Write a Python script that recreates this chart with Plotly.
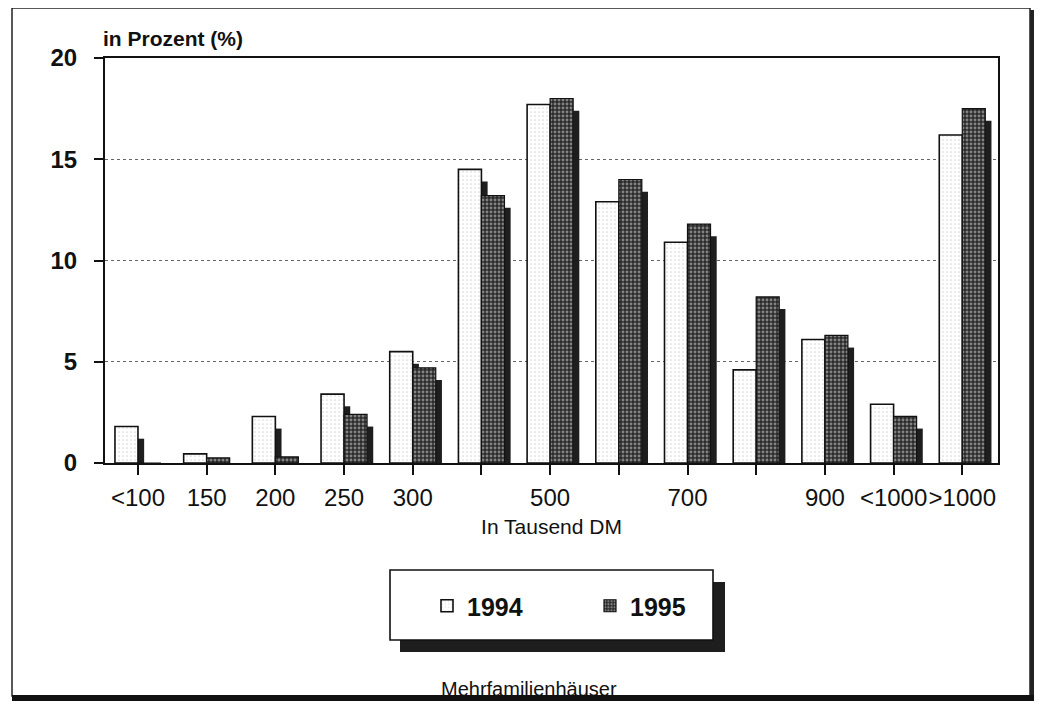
import plotly.graph_objects as go

# ---------------- data ----------------
categories = ["<100", "150", "200", "250", "300", "400", "500", "600", "700", "800", "900", "<1000", ">1000"]
tick_labels = ["<100", "150", "200", "250", "300", "", "500", "", "700", "", "900", "<1000", ">1000"]
values_1994 = [1.8, 0.45, 2.3, 3.4, 5.5, 14.5, 17.7, 12.9, 10.9, 4.6, 6.1, 2.9, 16.2]
values_1995 = [0.0, 0.25, 0.3, 2.4, 4.7, 13.2, 18.0, 14.0, 11.8, 8.2, 6.3, 2.3, 17.5]
series_names = ["1994", "1995"]

# ---------------- styling ----------------
OFF = 8  # page body margin
W, H = 1044 - OFF, 705 - OFF
PLOT_L, PLOT_R, PLOT_T, PLOT_B = 105, 998, 58, 463  # target pixel box on the page
ML, MT = PLOT_L - OFF, PLOT_T - OFF
MR, MB = W - (PLOT_R - OFF), H - (PLOT_B - OFF)
PW, PH = PLOT_R - PLOT_L, PLOT_B - PLOT_T
BAR_W = 0.335
SHADOW_W = 0.09
SHADOW_DROP = 0.6
FONT = "Liberation Sans"


def px_x(px):
    return (px - PLOT_L) / PW


def px_y(py):
    return (PLOT_B - py) / PH


shadow_1994 = [max(0.0, v - SHADOW_DROP) for v in values_1994]
shadow_1995 = [max(0.0, v - SHADOW_DROP) for v in values_1995]

fig = go.Figure()

# drop shadows (drawn first, behind the bars)
fig.add_trace(go.Bar(x=categories, y=shadow_1994, offset=0.0, width=SHADOW_W,
                     marker=dict(color="#1e1e1e", line=dict(width=0)),
                     showlegend=False, hoverinfo="skip"))
fig.add_trace(go.Bar(x=categories, y=shadow_1995, offset=BAR_W, width=SHADOW_W,
                     marker=dict(color="#1e1e1e", line=dict(width=0)),
                     showlegend=False, hoverinfo="skip"))

fig.add_trace(go.Bar(
    x=categories, y=values_1994, name=series_names[0], offset=-BAR_W, width=BAR_W,
    marker=dict(color="white", line=dict(color="#111", width=1.6),
                pattern=dict(shape=".", bgcolor="white", fgcolor="#b0b0b0",
                             size=4, solidity=0.14))))
fig.add_trace(go.Bar(
    x=categories, y=values_1995, name=series_names[1], offset=0.0, width=BAR_W,
    marker=dict(color="#333", line=dict(color="#111", width=1.2),
                pattern=dict(shape=".", bgcolor="#2a2a2a", fgcolor="#dcdcdc",
                             size=4, solidity=0.42))))

fig.update_layout(
    width=W, height=H,
    margin=dict(l=ML, r=MR, t=MT, b=MB),
    paper_bgcolor="white", plot_bgcolor="white",
    barmode="overlay",
    font=dict(family=FONT, color="#111"),
    showlegend=True,
    legend=dict(orientation="h", x=px_x(427), y=px_y(606), xanchor="left", yanchor="middle",
                bgcolor="rgba(0,0,0,0)", borderwidth=0, entrywidth=118,
                font=dict(size=25, family=FONT, color="#111", weight="bold"),
                itemclick=False, itemdoubleclick=False),
)

fig.update_xaxes(
    type="category", categoryorder="array", categoryarray=categories,
    tickmode="array", tickvals=categories, ticktext=tick_labels,
    range=[-0.48, 12.52], tickangle=0,
    showline=True, linecolor="#111", linewidth=2, mirror=True,
    ticks="outside", ticklen=10, tickcolor="#111", tickwidth=1.5,
    ticklabelstandoff=2,
    tickfont=dict(size=24, family=FONT, color="#111"),
    showgrid=False, zeroline=False,
    title=dict(text="In Tausend DM", font=dict(size=21, family=FONT, color="#111"), standoff=10),
)
fig.update_yaxes(
    range=[0, 20], tickmode="array", tickvals=[0, 5, 10, 15, 20],
    showline=True, linecolor="#111", linewidth=2, mirror=True,
    ticks="outside", ticklen=9, tickcolor="#111", tickwidth=1.5,
    ticklabelstandoff=12,
    tickfont=dict(size=24, family=FONT, color="#111", weight="bold"),
    showgrid=True, gridcolor="#666", griddash="dot", gridwidth=1,
    zeroline=False,
)

annotations = [
    dict(text="<b>in Prozent (%)</b>", x=px_x(101), y=px_y(38), xref="paper", yref="paper",
         xanchor="left", yanchor="middle", showarrow=False,
         font=dict(size=21, family=FONT, color="#111")),
    dict(text="Mehrfamilienhäuser", x=px_x(529), y=px_y(689), xref="paper", yref="paper",
         xanchor="center", yanchor="middle", showarrow=False,
         font=dict(size=20, family=FONT, color="#111")),
]
fig.update_layout(annotations=annotations)

shapes = [
    # legend box shadow and box
    dict(type="rect", xref="paper", yref="paper", layer="below",
         x0=px_x(400), x1=px_x(725), y0=px_y(652), y1=px_y(582),
         fillcolor="#1e1e1e", line=dict(width=0)),
    dict(type="rect", xref="paper", yref="paper", layer="below",
         x0=px_x(390), x1=px_x(713), y0=px_y(640), y1=px_y(570),
         fillcolor="white", line=dict(color="#111", width=1.6)),
    # outer frame
    dict(type="rect", xref="paper", yref="paper", layer="below",
         x0=px_x(12), x1=px_x(1030), y0=px_y(696), y1=px_y(8),
         fillcolor="rgba(0,0,0,0)", line=dict(color="#222", width=1.5)),
    dict(type="line", xref="paper", yref="paper",
         x0=px_x(1032), x1=px_x(1032), y0=px_y(10), y1=px_y(700),
         line=dict(color="#222", width=4)),
    dict(type="line", xref="paper", yref="paper",
         x0=px_x(12), x1=px_x(1034), y0=px_y(698), y1=px_y(698),
         line=dict(color="#111", width=6)),
]
fig.update_layout(shapes=shapes)

fig.write_html("out.html")
